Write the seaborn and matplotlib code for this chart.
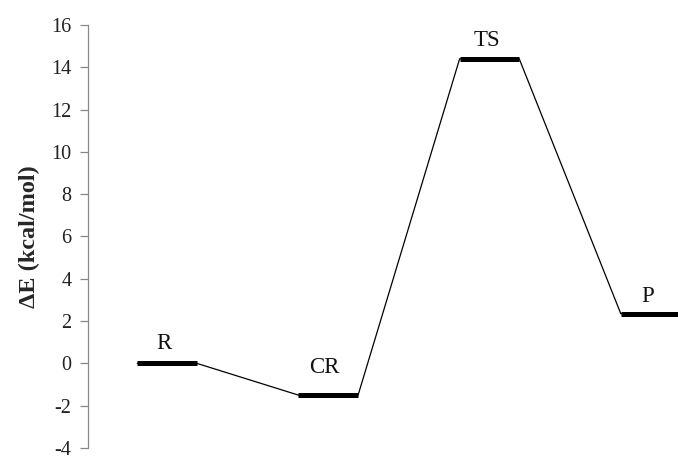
import numpy as np
import pandas as pd
import matplotlib
matplotlib.use('Agg')
import matplotlib.pyplot as plt
import seaborn as sns

# ── Данные ────────────────────────────────────────────────────────────────
states = ['R', 'CR', 'TS', 'P']
energy = [0.0, -1.5, 14.4, 2.35]   # kcal/mol
y_ticks = list(range(-4, 17, 2))

HALF = 0.185  # полуширина уровня по x
# смещение подписей (пункты)
LABEL_OFFSET = {'R': (-2, 7), 'CR': (-3, 12), 'TS': (-2, 6), 'P': (-2, 5)}

sns.set_style('white')
plt.rcParams['font.family'] = ['Liberation Serif', 'DejaVu Serif']

pos = np.arange(1, len(states) + 1)
rows = []
for p, e in zip(pos, energy):
    rows.append({'x': p - HALF, 'E': e})
    rows.append({'x': p + HALF, 'E': e})
df = pd.DataFrame(rows)

fig = plt.figure(figsize=(6.78, 4.59), dpi=100)
ax = fig.add_axes([0.13, 0.024, 0.87, 0.9215])

# тонкая линия профиля
sns.lineplot(data=df, x='x', y='E', sort=False, color='black', lw=0.9, ax=ax)
# толстые уровни
ax.hlines(energy, pos - HALF, pos + HALF, colors='black', lw=3.6, zorder=3)

for p, e, s in zip(pos, energy, states):
    ax.annotate(s, (p, e), xytext=LABEL_OFFSET[s], textcoords='offset points',
                ha='center', va='bottom', fontsize=16.5, color='#111111')

ax.set_xlim(0.51, 4.17)
ax.set_ylim(-4, 16)
ax.set_yticks(y_ticks)
ax.set_yticklabels([str(t) for t in y_ticks], fontsize=14.5, color='#222222')
ax.set_xticks([])
ax.set_xlabel('')
ax.set_ylabel('ΔE (kcal/mol)', fontsize=17.5, fontweight='bold', labelpad=8)

for side in ['top', 'right', 'bottom']:
    ax.spines[side].set_visible(False)
ax.spines['left'].set_color('#888888')
ax.spines['left'].set_linewidth(0.9)
ax.tick_params(axis='y', direction='out', length=6, width=0.9, color='#888888',
               left=True, pad=6)

plt.savefig('out.png', dpi=100)
